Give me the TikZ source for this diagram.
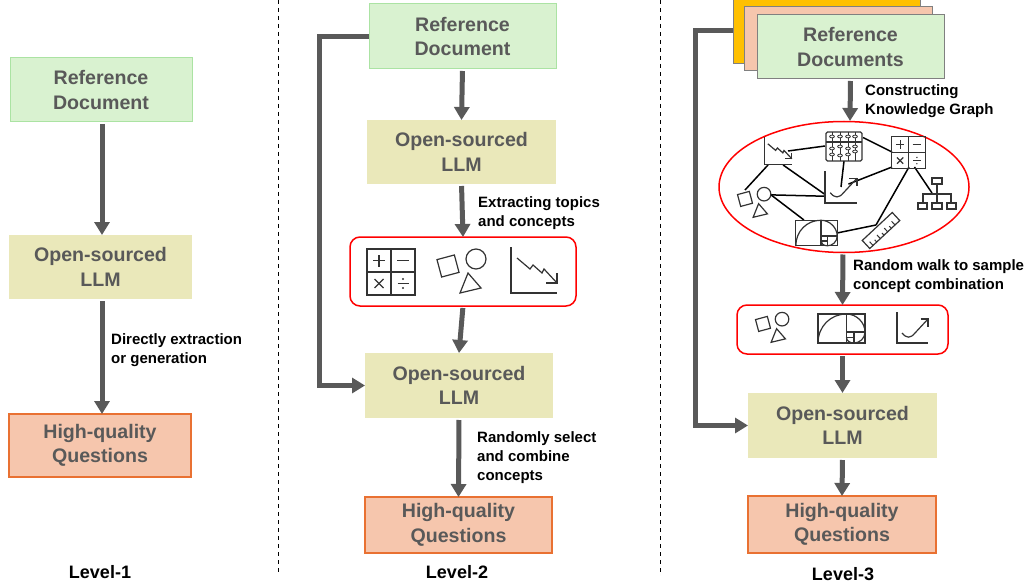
\documentclass[tikz,border=0pt]{standalone}
\usepackage{fontspec}
\setmainfont{Liberation Sans}
\usepackage{tikz}
\usetikzlibrary{arrows.meta}

\definecolor{docgreen}{HTML}{D9F2D0}
\definecolor{docedge}{HTML}{ABE3A3}
\definecolor{llmfill}{HTML}{EAE8BA}
\definecolor{questfill}{HTML}{F6C6AD}
\definecolor{questedge}{HTML}{E97132}
\definecolor{flowgray}{HTML}{595959}
\definecolor{icongray}{HTML}{333333}
\definecolor{stackorange}{HTML}{FFC000}

\tikzset{
  icon/.style={draw=icongray, line width=1.2pt},
  pics/arith/.style={code={
    \draw [icon] (-24,-23) rectangle (24,23);
    \draw [icon] (0,-23) -- (0,23);
    \draw [icon] (-24,0) -- (24,0);
    \draw [icon] (-18,11.5) -- (-6,11.5);
    \draw [icon] (-12,5.5) -- (-12,17.5);
    \draw [icon, line width=1.8pt] (6,11.5) -- (18,11.5);
    \draw [icon] (-16.5,-7) -- (-7.5,-16);
    \draw [icon] (-16.5,-16) -- (-7.5,-7);
    \draw [icon] (6.5,-11.5) -- (17.5,-11.5);
    \fill [icongray] (12,-7) circle [radius=1.1];
    \fill [icongray] (12,-16) circle [radius=1.1];
  }},
  pics/shapeset/.style={code={
    \draw [icon, rotate around={15:(-20,6)}] (-29,-3) rectangle (-11,15);
    \draw [icon] (8,13) circle [radius=10];
    \draw [icon] (-8,-21) -- (0,-1) -- (13,-16) -- cycle;
  }},
  pics/chartdown/.style={code={
    \draw [icon] (-23,23) -- (-23,-23) -- (23,-23);
    \draw [icon] (-17,12) -- (-4,1) -- (-1,5) -- (8,-3) -- (10,1) -- (23,-13);
    \draw [icon] (23,-3) -- (23,-13) -- (12,-13);
  }},
  pics/chartup/.style={code={
    \draw [icon] (-15.5,15.5) -- (-15.5,-15.5) -- (15.5,-15.5);
    \draw [icon] (-10.5,-5.5) .. controls (-6,-11) and (-2,-11) .. (2.5,-5.5) -- (15.5,8.5);
    \draw [icon] (8,8.5) -- (15.5,8.5) -- (15.5,1);
  }},
  pics/spiral/.style={code={
    \draw [icon] (-23.5,-14.5) rectangle (23.5,14.5);
    \draw [icon] (5,-14.5) -- (5,14.5);
    \draw [icon] (5,-3.5) -- (23.5,-3.5);
    \draw [icon] (12.5,-14.5) -- (12.5,-3.5);
    \draw [icon] (5,-9) -- (12.5,-9);
    \draw [icon] (-23.5,-14.5) .. controls (-23.5,2) and (-11,14.5) .. (5,14.5)
      .. controls (15,14.5) and (23.5,6) .. (23.5,-3.5)
      .. controls (23.5,-10) and (18,-14.5) .. (12.5,-14.5)
      .. controls (8,-14.5) and (5,-12) .. (5,-9);
  }},
  pics/abacus/.style={code={
    \draw [icon, rounded corners=1.5pt] (-18,-14.5) rectangle (18,14.5);
    \draw [icon] (-18,4.5) -- (18,4.5);
    \foreach \rodx/\beada/\beadb/\beadc in {-12/10/-2/-8, -4/10/0/-9, 4/10/-2/-8, 11/10/0/-5} {
      \draw [icon, line width=1pt] (\rodx,-14.5) -- (\rodx,14.5);
      \filldraw [icon, line width=.8pt, fill=white] (\rodx,\beada) circle [x radius=2.4, y radius=1.4];
      \filldraw [icon, line width=.8pt, fill=white] (\rodx,\beadb) circle [x radius=2.4, y radius=1.4];
      \filldraw [icon, line width=.8pt, fill=white] (\rodx,\beadc) circle [x radius=2.4, y radius=1.4];
    }
  }},
  pics/ruler/.style={code={
    \draw [icon] (-20.5,-5.5) rectangle (20.5,5.5);
    \foreach \tickx/\tickh in {-16/5, -11/3, -6/5, -1/3, 4/5, 9/3, 14/5} {
      \draw [icon, line width=1pt] (\tickx,-5.5) -- ++(0,\tickh);
    }
  }},
  pics/orgchart/.style={code={
    \draw [icon] (-5,9) rectangle (5,15);
    \draw [icon] (0,9) -- (0,-10);
    \draw [icon] (-14,-10) -- (-14,-1) -- (14,-1) -- (14,-10);
    \draw [icon] (-19,-16) rectangle (-10,-10);
    \draw [icon] (-5,-16) rectangle (5,-10);
    \draw [icon] (10,-16) rectangle (19,-10);
  }}
}

\begin{document}
\begin{tikzpicture}[x=1pt, y=1pt,
  box/.style={inner sep=0pt, outer sep=0pt, line width=1pt, align=center,
    text=flowgray, font=\fontsize{19.6}{24.5}\selectfont\bfseries},
  refbox/.style={box, draw=docedge, fill=docgreen},
  llmbox/.style={box, fill=llmfill},
  questbox/.style={box, draw=questedge, fill=questfill, line width=1.5pt},
  stackbox/.style={inner sep=0pt, outer sep=0pt, line width=1pt, draw=gray},
  note/.style={anchor=west, align=left, inner sep=0pt,
    font=\fontsize{15}{19}\selectfont\bfseries},
  level/.style={inner sep=0pt, font=\fontsize{18}{20}\selectfont\bfseries},
  flow/.style={draw=flowgray, line width=5pt, shorten <=2pt, -{Triangle[length=13pt,width=15pt]}},
  redbox/.style={draw=red, line width=1.5pt, rounded corners=10pt, inner sep=0pt, outer sep=0pt},
  spot/.style={inner sep=0pt, outer sep=0pt},
  link/.style={draw=black, line width=1.5pt}]
\useasboundingbox (0,-588) rectangle (1030,0);

% separators
\draw [dashed, line width=1pt, dash pattern=on 4pt off 4pt] (278,0) -- (278,-572);
\draw [dashed, line width=1pt, dash pattern=on 4pt off 4pt] (660,0) -- (660,-572);

% level 1
\node [refbox, minimum width=182, minimum height=64] (refa) at (101,-90) {Reference\\Document};
\node [llmbox, minimum width=183, minimum height=64] (llma) at (100.5,-267) {Open-sourced\\LLM};
\node [questbox, minimum width=182, minimum height=63] (questa) at (100,-445.5) {High-quality\\Questions};
\draw [flow] ([xshift=1pt]refa.south) -- ([xshift=1.5pt]llma.north);
\draw [flow] ([xshift=1.5pt]llma.south) -- ([xshift=2pt]questa.north);
\node [note] (notea) at (111,-350) {Directly extraction\\or generation};
\node [level] (levela) at (100,-572.5) {Level-1};

% level 2
\node [refbox, minimum width=187, minimum height=65] (refb) at (462.5,-36.5) {Reference\\Document};
\node [llmbox, minimum width=189, minimum height=64] (llmb) at (461.5,-152) {Open-sourced\\LLM};
\node [redbox, minimum width=226, minimum height=69] (iconsb) at (463,-271.5) {};
\node [llmbox, minimum width=188, minimum height=65] (llmc) at (459,-385.5) {Open-sourced\\LLM};
\node [questbox, minimum width=187, minimum height=56] (questb) at (458.5,-525) {High-quality\\Questions};
\pic at (391,-272) {arith};
\pic at (468,-272) {shapeset};
\pic at (534,-270) {chartdown};
\draw [flow] (refb.south) -- (llmb.north);
\draw [flow] (llmb.south) -- (iconsb.north);
\draw [flow] (iconsb.south) -- (llmc.north);
\draw [flow] (llmc.south) -- (questb.north);
\draw [flow, shorten <=0pt] (refb.west) -- ++(-50,0) |- (llmc.west);
\node [note] (noteb) at (478,-213.5) {Extracting topics\\and concepts};
\node [note] (notec) at (477,-458) {Randomly select\\and combine\\concepts};
\node [level] (levelb) at (457,-572.5) {Level-2};

% level 3
\node [stackbox, fill=stackorange, minimum width=187, minimum height=66] (doca) at (826.5,-30.5) {};
\node [stackbox, fill=questfill, minimum width=188, minimum height=64] (docb) at (838,-38.5) {};
\node [refbox, draw=gray, minimum width=187, minimum height=64] (refc) at (850.5,-47) {Reference\\Documents};
\node [llmbox, minimum width=189, minimum height=65] (llmd) at (842.5,-425.5) {Open-sourced\\LLM};
\node [questbox, minimum width=188, minimum height=57] (questc) at (842,-524.5) {High-quality\\Questions};
\draw [flow, shorten <=0pt] (doca.west) -- ++(-38,0) |- (llmd.west);

% knowledge graph
\draw [red, line width=1.5pt] (844,-187) circle [x radius=125, y radius=65.5];
\coordinate (graphtop) at (850,-121);
\coordinate (graphbottom) at (843,-252.5);
\node [spot, minimum width=20, minimum height=28] (kgchart) at (778,-151) {};
\node [spot, minimum width=38, minimum height=30] (kgabacus) at (844,-146) {};
\node [spot, minimum width=34, minimum height=30] (kgarith) at (909,-152) {};
\node [spot, minimum width=26, minimum height=26] (kgshapes) at (758,-203) {};
\node [spot, minimum width=32, minimum height=30] (kgup) at (841,-187) {};
\node [spot, minimum width=41, minimum height=26] (kgspiral) at (816.5,-233) {};
\node [spot, minimum width=10, minimum height=10] (kgruler) at (881,-230) {};
\node [spot, minimum width=10, minimum height=10] (kgorg) at (937,-193) {};
\draw [link] (kgchart.east) -- (kgabacus.west);
\draw [link] (kgabacus.24) -- (kgarith.west);
\draw [link] (kgchart.south west) -- (kgshapes.north west);
\draw [link] (kgchart.-70) -- (kgup.205);
\draw [link] (kgshapes.32) -- (kgup.210);
\draw [link] (kgshapes.32) -- (kgspiral.134);
\draw [link] (kgabacus.south) -- (kgup.center);
\draw [link, shorten >=8pt] (kgarith.south west) -- (kgup.center);
\draw [link] (kgarith.south) -- (kgruler.north west);
\draw [link] (kgspiral.east) -- (kgruler.north west);
\draw [link] (kgarith.-70) -- (kgorg.west);
\pic [scale=.6] at (778,-151) {chartdown};
\pic at (844,-146.5) {abacus};
\pic [scale=.7] at (908.5,-152.5) {arith};
\pic [scale=.68] at (758.6,-203) {shapeset};
\pic [scale=1.03] at (841,-187) {chartup};
\pic [scale=.88] at (816.5,-233) {spiral};
\pic [rotate=43] at (881,-230.5) {ruler};
\pic at (937,-193) {orgchart};

% sampled concepts
\node [redbox, minimum width=211, minimum height=49] (iconsc) at (842.5,-329.5) {};
\pic [scale=.68] at (776.6,-328) {shapeset};
\pic at (841.5,-328.5) {spiral};
\pic at (912.5,-327.5) {chartup};
\draw [flow] (refc.south) -- (graphtop);
\draw [flow] (graphbottom) -- (iconsc.north);
\draw [flow] (iconsc.south) -- (llmd.north);
\draw [flow] (llmd.south) -- (questc.north);
\node [note] (noted) at (865,-101.5) {Constructing\\Knowledge Graph};
\node [note] (notee) at (853,-276.5) {Random walk to sample\\concept combination};
\node [level] (levelc) at (843,-574) {Level-3};
\end{tikzpicture}
\end{document}
